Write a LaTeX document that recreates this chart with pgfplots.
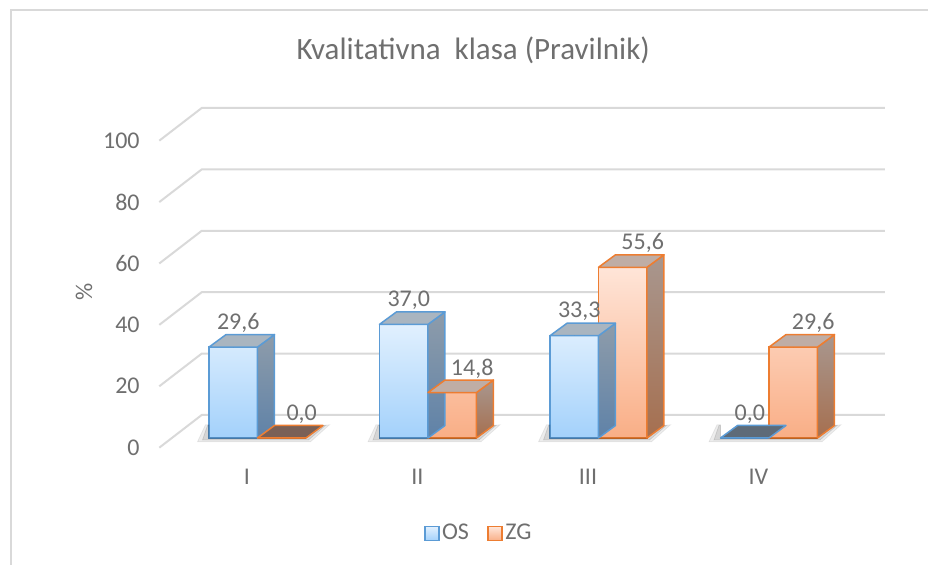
\documentclass[border=0pt]{standalone}
\usepackage{pgfplots}
\usepackage{pgfplotstable}
\pgfplotsset{compat=1.18}
\usepackage{fontspec}
\setmainfont{Carlito}
\definecolor{txt}{HTML}{6F6F6F}
\definecolor{gridc}{HTML}{D9D9D9}
\definecolor{osb}{HTML}{5B9BD5}
\definecolor{zgb}{HTML}{ED7D31}
\definecolor{ostop}{HTML}{E1F0FE}
\definecolor{osbot}{HTML}{A3D1FB}
\definecolor{zgtop}{HTML}{FFE5D8}
\definecolor{zgbot}{HTML}{F9AE86}
\definecolor{oslid}{HTML}{A9B5C0}
\definecolor{zglid}{HTML}{BFADA5}
\definecolor{ossidet}{HTML}{8E9CAA}
\definecolor{ossideb}{HTML}{5F82A8}
\definecolor{zgsidet}{HTML}{A8978F}
\definecolor{zgsideb}{HTML}{A66F4F}
\definecolor{oszero}{HTML}{5E6B78}
\definecolor{zgzero}{HTML}{7A6056}

\pgfplotstableread{
x OS ZG
0 29.6 0.0
1 37.0 14.8
2 33.3 55.6
3 0.0 29.6
}\datatable

\pgfplotsset{
  bar3d/.style n args={5}{
    forget plot, only marks, mark=*, mark size=0pt, scatter,
    visualization depends on={rawy \as \barh},
    scatter/@pre marker code/.code={%
      \pgfmathsetmacro\hh{\barh*1.535}%
      \begin{scope}[line width=0.75pt, line join=round]
      \ifdim\barh pt>0.05pt
        \path[draw=#5, top color=#2, bottom color=#3] (12.125pt,0pt) -- ++(8.5pt,6.25pt) -- ++(0pt,-\hh pt) -- (12.125pt,-\hh pt) -- cycle;
        \path[draw=#5, fill=#1] (-12.125pt,0pt) -- (12.125pt,0pt) -- ++(8.5pt,6.25pt) -- ++(-24.25pt,0pt) -- cycle;
      \else
        \path[draw=#5, fill=#4] (-12.125pt,0pt) -- (12.125pt,0pt) -- ++(8.5pt,6.25pt) -- ++(-24.25pt,0pt) -- cycle;
      \fi
      \end{scope}%
    },
    scatter/@post marker code/.code={},
  },
  front/.style n args={5}{
    ybar, bar width=24.25pt, bar shift=#1,
    draw=#2, line width=0.75pt, top color=#3, bottom color=#4,
    nodes near coords={\pgfmathprintnumber[fixed, fixed zerofill, precision=1, use comma, assume math mode=true]{\pgfplotspointmeta}},
    nodes near coords style={anchor=center, xshift=#5, yshift=12pt, text=txt, font=\fontsize{12}{14}\selectfont, inner sep=0pt},
    legend image code/.code={\draw[#2, line width=0.75pt, top color=#3, bottom color=#4] (0pt,-3.5pt) rectangle (7pt,3.5pt);},
  },
}

\begin{document}
\begin{tikzpicture}
\draw[gridc, line width=1pt] (5.5pt,0pt) -- (5.5pt,277.5pt) -- (464pt,277.5pt);
\begin{axis}[
  at={(72.5pt,48pt)}, anchor=south west,
  x={(85.25pt,0pt)}, y={(0pt,1.535pt)},
  xmin=-0.6598, xmax=3.9, ymin=-10.1, ymax=110,
  clip=false,
  axis line style={draw=none},
  major tick length=0pt,
  xtick={0,1,2,3}, xticklabels={I,II,III,IV},
  ytick={0,20,40,60,80,100},
  /pgf/number format/assume math mode=true,
  ticklabel style={font=\fontsize{12}{14}\selectfont, text=txt},
  xticklabel style={anchor=north, inner sep=0pt, xshift=-5.25pt},
  yticklabel style={anchor=east, inner sep=0pt, xshift=-2.5pt, yshift=-4.85pt},
  legend style={at={(axis description cs:0.4296,-0.1755)}, anchor=center, draw=none, fill=none,
    legend columns=2, font=\fontsize{12}{14}\selectfont, text=txt,
    nodes={inner sep=1.2pt},
    /tikz/every even column/.append style={column sep=8pt}},
]
\pgfplotsinvokeforeach{0,20,40,60,80,100}{
  \draw[gridc, line width=1pt] (axis cs:-0.576,{#1-3.16}) -- (axis cs:-0.327,{#1+7.49}) -- (axis cs:3.680,{#1+7.49});
}
% floor shadows (only where the floor is visible round each pair of bars)
\addplot[forget plot, only marks, mark=*, mark size=0pt, scatter,
  scatter/@pre marker code/.code={%
    \fill[black, opacity=0.07] (-30pt,-1.9pt) -- (26.5pt,-1.9pt) -- (36pt,6.6pt) -- (32.75pt,6.25pt) -- (24.25pt,0pt) -- (-24.25pt,0pt) -- (-24.25pt,6.6pt) -- (-26pt,6.6pt) -- cycle;
    \fill[black, opacity=0.10] (-27.5pt,-1pt) -- (25.5pt,-1pt) -- (34pt,6.3pt) -- (32.75pt,6.25pt) -- (24.25pt,0pt) -- (-24.25pt,0pt) -- (-24.25pt,6.3pt) -- (-25pt,6.3pt) -- cycle;
  },
  scatter/@post marker code/.code={}]
  table[x=x, y expr=0] {\datatable};
\addplot[front={-12.125pt}{osb}{ostop}{osbot}{-9.6pt}] table[x=x, y=OS] {\datatable};
\addlegendentry{OS}
\addplot[bar3d={oslid}{ossidet}{ossideb}{oszero}{osb}] table[x expr=\thisrow{x}-0.14223, y=OS] {\datatable};
\addplot[front={12.125pt}{zgb}{zgtop}{zgbot}{22.1pt}] table[x=x, y=ZG] {\datatable};
\addlegendentry{ZG}
\addplot[bar3d={zglid}{zgsidet}{zgsideb}{zgzero}{zgb}] table[x expr=\thisrow{x}+0.14223, y=ZG] {\datatable};
\end{axis}
\node[anchor=base, text=txt, font=\fontsize{15.5}{18}\selectfont] at (236.6pt,252.85pt) {Kvalitativna\ \ klasa (Pravilnik)};
\node[rotate=90, text=txt, font=\fontsize{12}{14}\selectfont] at (42pt,136.5pt) {\%};
\pgfresetboundingbox
\useasboundingbox (0pt,0pt) rectangle (464pt,282.5pt);
\end{tikzpicture}
\end{document}
